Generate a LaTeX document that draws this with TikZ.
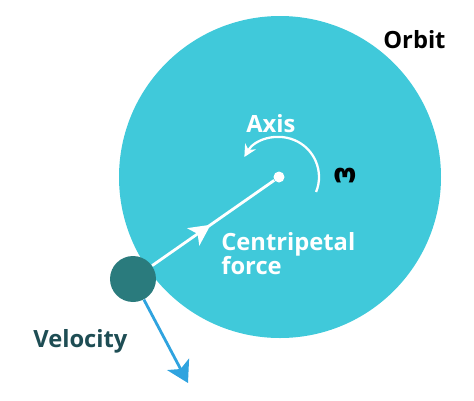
\documentclass[tikz,border=0pt]{standalone}
\usepackage{fontspec}
\setmainfont{Open Sans}
\newfontfamily\greekfont{DejaVu Sans}
\usetikzlibrary{arrows.meta,decorations.markings}
\definecolor{orbitcol}{HTML}{40C9DA}
\definecolor{ballcol}{HTML}{2A7B7D}
\definecolor{velcol}{HTML}{2FA3DF}
\definecolor{veltext}{HTML}{1E4D54}
\tikzset{
  lbl/.style={font=\bfseries\fontsize{13.5}{15}\selectfont, anchor=west, inner sep=0pt},
  midarrow/.style={postaction={decorate}, decoration={markings, mark=at position 0.48 with {\arrow{Stealth[width=12pt,length=12pt,inset=3pt]}}}}
}
\begin{document}
\begin{tikzpicture}[x=0.02cm,y=-0.02cm]
        \useasboundingbox (0,0) rectangle (474,400);
        % circle
        \fill[orbitcol] (280,177) circle (161);
        \node[circle, fill=white, inner sep=0pt, minimum size=0.22cm] (axis) at (279,177) {};
        \node[circle, fill=ballcol, inner sep=0pt, minimum size=0.92cm] (ball) at (133,279) {};
        \coordinate (tip) at (188,383);
        % line
        \draw[white, line width=1.6pt, midarrow] (ball) -- (axis);
        \draw[velcol, line width=1.6pt, -{Stealth[width=14pt,length=12pt,inset=3pt]}] (ball) -- (tip);
        \draw[white, line width=1.3pt, -{Stealth[width=7pt,length=7pt]}] (axis.center) ++(22:40) arc (22:-150:40);
        % lecter
        \node[lbl] (orbit) at (383,40) {Orbit};
        \node[lbl, text=white] (axislbl) at (246,124) {Axis};
        \node[font=\greekfont\bfseries\fontsize{15}{15}\selectfont, rotate=180, inner sep=0pt] (omega) at (345,176) {ω};
        \node[lbl, text=white, align=left, anchor=north west] (force) at (221,232) {Centripetal\\[-1pt]force};
        \node[lbl, text=veltext] (vel) at (33,341) {Velocity};
\end{tikzpicture}
\end{document}
